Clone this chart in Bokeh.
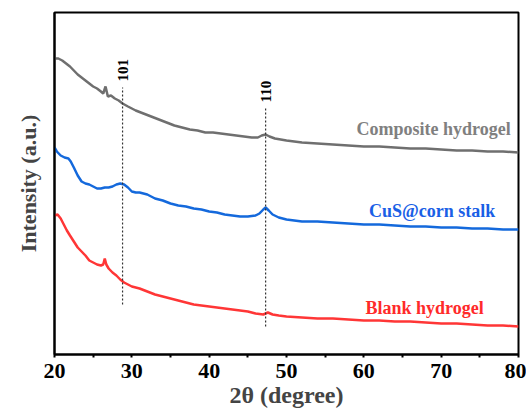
from bokeh.plotting import figure
from bokeh.models import Range1d, Label, FixedTicker
from bokeh.embed import file_html
from bokeh.resources import INLINE

# ---- data (2theta in degrees, intensity in arbitrary units) ----
comp_x = [20.0, 20.5, 21.0, 21.5, 22.0, 22.5, 23.0, 23.5, 24.0, 24.5, 25.0, 25.5, 26.0, 26.3, 26.6, 26.9,
          27.3, 27.8, 28.3, 28.8, 29.5, 30.5, 31.5, 32.5, 33.5, 34.5, 35.5, 36.5, 37.5, 38.5, 39.5, 40.5,
          41.5, 42.5, 43.5, 44.5, 45.5, 46.3, 46.8, 47.3, 47.8, 48.5, 50, 52, 54, 56, 58, 60, 62, 64, 66,
          68, 70, 72, 74, 76, 78, 80]
comp_y = [296, 296, 294, 291, 288, 284, 280, 277, 274, 271, 268, 266, 263, 261, 268, 258,
          259, 256, 254, 251, 248, 244, 241, 238, 235, 232, 229, 227, 225, 224, 222, 222,
          221, 220, 219, 218, 217, 217, 219, 220, 218, 216, 214, 212, 211, 210, 209, 208, 208, 207, 206,
          206, 205, 204, 204, 203, 203, 202]

cus_x = [20.0, 20.3, 20.8, 21.3, 21.8, 22.1, 22.5, 23.0, 23.5, 24.0, 24.5, 25.0, 25.5, 26.0, 26.5, 27.0,
         27.5, 28.0, 28.5, 29.0, 29.5, 30.0, 30.5, 31.0, 31.5, 32.0, 32.5, 33.0, 33.5, 34.0, 35.0, 36.0,
         37.0, 38.0, 39.0, 40.0, 41.0, 42.0, 43.0, 44.0, 45.0, 46.0, 46.5, 47.0, 47.3, 47.7, 48.2, 49.0,
         50.0, 52.0, 54.0, 56.0, 58.0, 60.0, 62.0, 64.0, 66.0, 68.0, 70.0, 72.0, 74.0, 76.0, 78.0, 80.0]
cus_y = [207, 203, 199, 197, 196, 193, 187, 179, 173, 171, 170, 168, 166, 166, 167, 167,
         168, 170, 171, 170, 167, 163, 162, 162, 161, 160, 158, 156, 155, 154, 151, 149,
         148, 146, 145, 143, 142, 140, 139, 138, 138, 139, 141, 145, 147, 144, 140, 137,
         135, 133, 133, 132, 131, 130, 130, 129, 128, 128, 127, 127, 126, 126, 125, 125]

blank_x = [20.0, 20.4, 20.8, 21.2, 21.6, 22.0, 22.5, 23.0, 23.5, 24.0, 24.5, 25.0, 25.5, 26.0, 26.3, 26.5,
           26.7, 27.0, 27.5, 28.0, 28.5, 29.0, 29.5, 30.0, 31.0, 32.0, 33.0, 34.0, 35.0, 36.0, 37.0, 38.0,
           39.0, 40.0, 41.0, 42.0, 43.0, 44.0, 45.0, 46.0, 47.0, 47.6, 48.2, 49.0, 50.0, 52.0, 54.0, 56.0,
           58.0, 60.0, 62.0, 64.0, 66.0, 68.0, 70.0, 72.0, 74.0, 76.0, 78.0, 80.0]
blank_y = [139, 140, 136, 130, 124, 119, 113, 107, 103, 99, 94, 92, 90, 89, 90, 96,
           90, 86, 82, 79, 75, 72, 70, 68, 66, 63, 60, 58, 56, 54, 52, 50,
           49, 48, 47, 46, 45, 44, 43, 41, 40, 42, 40, 39, 38, 37, 36, 36,
           35, 34, 34, 33, 33, 32, 31, 31, 30, 29, 29, 28]

peak_pos = [28.8, 47.3]
peak_labels = ["101", "110"]
peak_line_top = [267, 246]
peak_line_bottom = [50, 28]

x_ticks = [20, 30, 40, 50, 60, 70, 80]
x_minor = [25, 35, 45, 55, 65, 75]

FONT = "Liberation Serif"
GRAY, BLUE, RED = "#6f6f6f", "#1469dc", "#ff3636"

p = figure(width=526, height=416, output_backend="svg", toolbar_location=None,
           x_range=Range1d(20, 80), y_range=Range1d(0, 342),
           min_border_left=54, min_border_right=8, min_border_top=12, min_border_bottom=62)
p.background_fill_color = "white"
p.border_fill_color = "white"
p.grid.visible = False
p.outline_line_color = "black"
p.outline_line_width = 2

# curves
p.line(comp_x, comp_y, line_color=GRAY, line_width=2.5)
p.line(cus_x, cus_y, line_color=BLUE, line_width=2.5)
p.line(blank_x, blank_y, line_color=RED, line_width=2.5)

# peak markers
for xp, lab, top, bot in zip(peak_pos, peak_labels, peak_line_top, peak_line_bottom):
    p.segment(x0=[xp], y0=[bot], x1=[xp], y1=[top], line_color="#333333", line_width=1.2, line_dash="2 2")
    p.add_layout(Label(x=xp, y=top + 6, text=lab, angle=1.5708, text_font=FONT, text_font_style="bold",
                       text_font_size="15px", text_color="black", text_align="left", text_baseline="middle"))

# series labels
p.add_layout(Label(x=79.0, y=226, text="Composite hydrogel", text_font=FONT, text_font_style="bold",
                   text_font_size="18px", text_color="#808080", text_align="right", text_baseline="middle"))
p.add_layout(Label(x=77.0, y=144, text="CuS@corn stalk", text_font=FONT, text_font_style="bold",
                   text_font_size="18px", text_color="#1a5fe6", text_align="right", text_baseline="middle"))
p.add_layout(Label(x=75.5, y=47, text="Blank hydrogel", text_font=FONT, text_font_style="bold",
                   text_font_size="18px", text_color="#ff2a2a", text_align="right", text_baseline="middle"))

# x axis
xa = p.xaxis[0]
xa.ticker = FixedTicker(ticks=x_ticks, minor_ticks=x_minor)
xa.axis_label = "2θ (degree)"
xa.axis_label_text_font = FONT
xa.axis_label_text_font_style = "bold"
xa.axis_label_text_font_size = "24px"
xa.axis_label_standoff = 1
xa.major_label_text_font = FONT
xa.major_label_text_font_style = "bold"
xa.major_label_text_font_size = "22px"
xa.major_label_text_color = "black"
xa.major_label_standoff = 6
xa.axis_line_width = 2
xa.major_tick_in = 0
xa.major_tick_out = 3
xa.minor_tick_in = 0
xa.minor_tick_out = 3
xa.major_tick_line_width = 2
xa.minor_tick_line_width = 2

# y axis (no ticks, no tick labels)
ya = p.yaxis[0]
ya.ticker = FixedTicker(ticks=[])
ya.axis_label = "Intensity (a.u.)"
ya.axis_label_text_font = FONT
ya.axis_label_text_font_style = "bold"
ya.axis_label_text_font_size = "22px"
ya.axis_label_standoff = 14
ya.major_tick_line_color = None
ya.minor_tick_line_color = None
ya.axis_line_width = 2

open("out.html", "w").write(file_html(p, INLINE))
